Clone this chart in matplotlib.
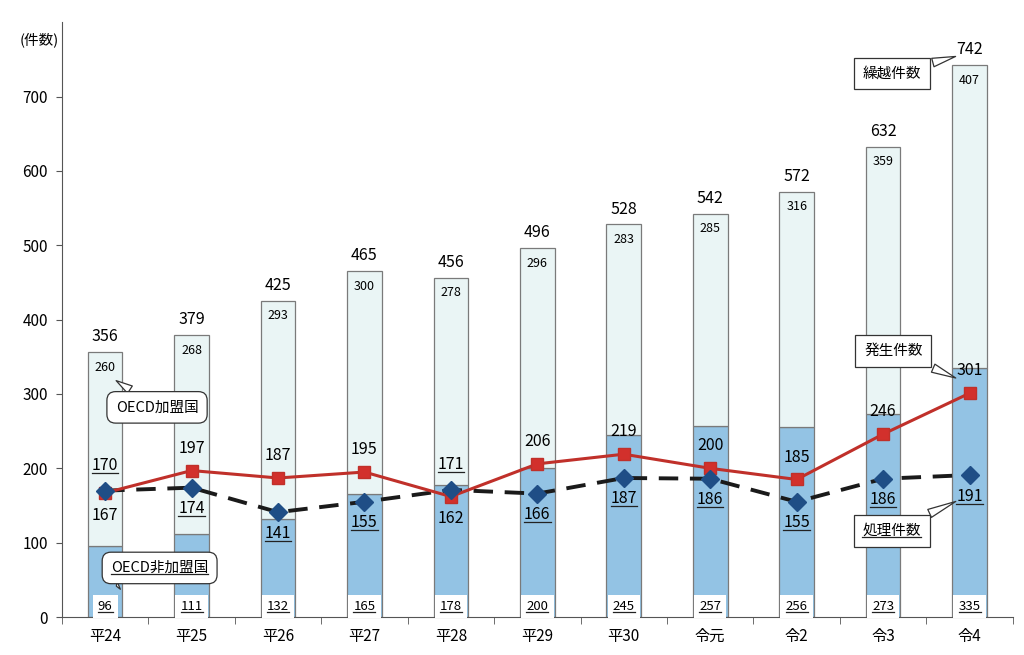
import matplotlib
matplotlib.use('Agg')
import matplotlib.pyplot as plt
from matplotlib.lines import Line2D
from matplotlib.text import Text
import numpy as np

plt.rcParams['font.family'] = ['Noto Sans CJK JP', 'DejaVu Sans']

# data
years = ['平24', '平25', '平26', '平27', '平28', '平29', '平30', '令元', '令2', '令3', '令4']
non_oecd = [96, 111, 132, 165, 178, 200, 245, 257, 256, 273, 335]
oecd = [260, 268, 293, 300, 278, 296, 283, 285, 316, 359, 407]
totals = [356, 379, 425, 465, 456, 496, 528, 542, 572, 632, 742]
hassei = [167, 197, 187, 195, 162, 206, 219, 200, 185, 246, 301]
shori = [170, 174, 141, 155, 171, 166, 187, 186, 155, 186, 191]

x = np.arange(len(years))

fig = plt.figure(figsize=(10.24, 6.55), dpi=100)
ax = fig.add_axes([0.0605, 0.058, 0.9285, 0.908])

underlined = []

blue = '#93c3e4'
pale = '#eaf5f5'
ax.bar(x, non_oecd, width=0.4, color=blue, edgecolor='#7a7a7a', linewidth=0.9, zorder=2)
ax.bar(x, oecd, width=0.4, bottom=non_oecd, color=pale, edgecolor='#7a7a7a', linewidth=0.9, zorder=2)

ax.plot(x, shori, color='#1a1a1a', linestyle=(0, (5, 3)), linewidth=2.8, zorder=3)
ax.plot(x, shori, linestyle='none', marker='D', markersize=9, color='#1f4e86', zorder=5)
ax.plot(x, hassei, color='#c0302a', linewidth=2.2, marker='s', markersize=8,
        markerfacecolor='#d2302c', markeredgecolor='#c0302a', zorder=4)

for i in range(len(years)):
    # totals
    ax.annotate(str(totals[i]), (x[i], totals[i]), xytext=(0, 5), textcoords='offset points',
                ha='center', va='bottom', fontsize=11.5)
    # oecd part
    ax.annotate(str(oecd[i]), (x[i], totals[i]), xytext=(0, -6), textcoords='offset points',
                ha='center', va='top', fontsize=9)
    # non oecd part, white box at bottom
    t = ax.text(x[i], 14, str(non_oecd[i]), ha='center', va='center', fontsize=9.5,
                bbox=dict(boxstyle='square,pad=0.4', facecolor='white', edgecolor='none'), zorder=6)
    underlined.append(t)
    # line labels
    if shori[i] > hassei[i]:
        t = ax.annotate(str(shori[i]), (x[i], shori[i]), xytext=(0, 12), textcoords='offset points',
                        ha='center', va='bottom', fontsize=11.5, zorder=6)
        ax.annotate(str(hassei[i]), (x[i], hassei[i]), xytext=(0, -10), textcoords='offset points',
                    ha='center', va='top', fontsize=11.5, zorder=6)
    else:
        ax.annotate(str(hassei[i]), (x[i], hassei[i]), xytext=(0, 10), textcoords='offset points',
                    ha='center', va='bottom', fontsize=11.5, zorder=6)
        t = ax.annotate(str(shori[i]), (x[i], shori[i]), xytext=(0, -9), textcoords='offset points',
                        ha='center', va='top', fontsize=11.5, zorder=6)
    underlined.append(t)

# callouts
box = dict(boxstyle='round,pad=0.6', facecolor='white', edgecolor='#333333', linewidth=0.9)
box_sq = dict(boxstyle='square,pad=0.6', facecolor='white', edgecolor='#333333', linewidth=0.9)
arrow = dict(arrowstyle='wedge,tail_width=0.6', facecolor='white', edgecolor='#333333', linewidth=0.9)
ax.annotate('OECD加盟国', (0.1, 320), xytext=(0.6, 282), fontsize=10.5, ha='center', va='center',
            bbox=box, arrowprops=arrow, zorder=7)
t = ax.annotate('OECD非加盟国', (0.1, 40), xytext=(0.63, 66), fontsize=10.5,
                ha='center', va='center', bbox=box, arrowprops=arrow, zorder=7)
underlined.append(t)
ax.annotate('繰越件数', (9.87, 755), xytext=(9.1, 731), fontsize=10.5, ha='center', va='center',
            bbox=box_sq, arrowprops=arrow, zorder=7)
ax.annotate('発生件数', (9.87, 320), xytext=(9.12, 358), fontsize=10.5, ha='center', va='center',
            bbox=box_sq, arrowprops=arrow, zorder=7)
t = ax.annotate('処理件数', (9.87, 157), xytext=(9.1, 116), fontsize=10.5, ha='center',
                va='center', bbox=box_sq, arrowprops=arrow, zorder=7)
underlined.append(t)

ax.set_xlim(-0.5, len(years) - 0.5)
ax.set_ylim(0, 800)
ax.set_yticks(np.arange(0, 800, 100))
ax.set_xticks(x)
ax.set_xticklabels(years, fontsize=11)
ax.set_xticks(np.arange(-0.5, len(years), 1), minor=True)
ax.tick_params(axis='x', which='major', length=0, pad=8)
ax.tick_params(axis='x', which='minor', length=5, direction='out', color='#555555')
ax.tick_params(axis='y', labelsize=11, length=4, pad=6, color='#555555')
ax.spines['top'].set_visible(False)
ax.spines['right'].set_visible(False)
ax.spines['left'].set_color('#555555')
ax.spines['bottom'].set_color('#555555')
ax.text(-0.003, 0.97, '(件数)', transform=ax.transAxes, ha='right', va='center', fontsize=10.5)

# underline the labels that are underlined in the original
fig.canvas.draw()
renderer = fig.canvas.get_renderer()
inv = fig.transFigure.inverted()
for t in underlined:
    bb = Text.get_window_extent(t, renderer)
    (x0, y0), (x1, y1) = inv.transform([(bb.x0, bb.y0 + 1), (bb.x1, bb.y0 + 1)])
    fig.add_artist(Line2D([x0, x1], [y0, y1], color='#222222', linewidth=0.9, zorder=10))

fig.savefig('out.png', dpi=100)
